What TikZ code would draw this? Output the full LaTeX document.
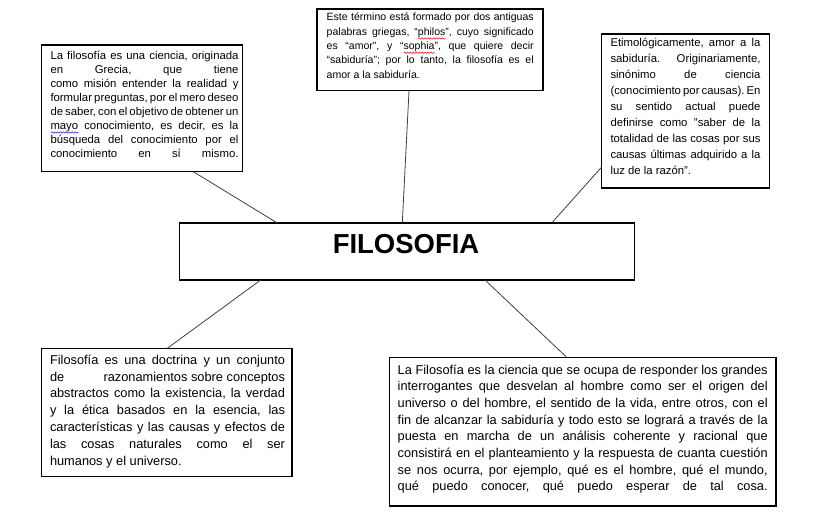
\documentclass[tikz,border=0pt]{standalone}
\usepackage{fontspec}
\setmainfont{Liberation Sans}
\usetikzlibrary{calc,decorations.pathmorphing}
\definecolor{spellred}{RGB}{225,20,20}
\definecolor{spellblue}{RGB}{40,40,210}
\newlength\swlen
% justified line
\newcommand\jl[2]{{\spaceskip=0.278em plus 3em minus 0.15em\relax\makebox[#1][s]{#2}}}
% natural (last) line
\newcommand\jn[1]{{\spaceskip=0.278em\relax #1}}
\newcommand\spellwave[2]{\settowidth\swlen{#2}\rlap{\smash{\tikz[baseline=0pt,x=1pt,y=1pt]\draw[#1,line width=0.4pt,decorate,decoration={snake,amplitude=0.55pt,segment length=2.2pt}] (0pt,-2.4pt) -- (\swlen,-2.4pt);}}#2}
\newcommand\setfs[2]{\fontsize{#1}{#2}\selectfont\frenchspacing}
\tikzset{
  box/.style={draw=black, line width=0.8pt, inner sep=0pt, outer sep=0pt, anchor=north west, fill=white},
  link/.style={draw=black!75, line width=0.6pt},
  txt/.style={inner sep=0pt, outer sep=0pt, anchor=base west, align=left},
  title/.style={inner sep=0pt, outer sep=0pt, anchor=base, font=\fontsize{20.6pt}{24pt}\selectfont\bfseries},
}
\begin{document}
\begin{tikzpicture}[x=0.75pt,y=-0.75pt]
\fill[white] (0,0) rectangle (839,513);
\useasboundingbox (0,0) rectangle (839,513);

% boxes
\node[box, minimum width=150.45pt, minimum height=95pt] (tl) at (41.7,45) {};
\node[box, minimum width=169.5pt, minimum height=61.3pt] (tm) at (317,9) {};
\node[box, minimum width=125.5pt, minimum height=115.5pt] (tr) at (601.7,34) {};
\node[box, minimum width=341.25pt, minimum height=42.75pt] (c) at (179.3,223) {};
\node[box, minimum width=188pt, minimum height=96.3pt] (bl) at (41.3,348.3) {};
\node[box, minimum width=289.7pt, minimum height=111.5pt] (br) at (389.7,357.3) {};

% connectors
\draw[link] ($(tl.south west)+(151.6,0)$) -- ($(c.north west)+(98,0)$);
\draw[link] ($(tm.south west)+(92,0)$) -- ($(c.north west)+(223,0)$);
\draw[link] ($(tr.south west)+(0,-21)$) -- ($(c.north west)+(372.4,0)$);
\draw[link] ($(c.south west)+(81.4,0)$) -- ($(bl.north west)+(126,0)$);
\draw[link] ($(c.south west)+(305.7,0)$) -- ($(br.north west)+(177,0)$);

% title
\node[title] (ctext) at (406,254) {FILOSOFIA};

% top-left text
\node[txt, text width=141pt, font=\setfs{8.5pt}{10.5pt}] (tltext) at (50.5,59.3) {%
\jl{141pt}{La filosofía es una ciencia, originada}\\
\jl{141pt}{en Grecia, que tiene}\\
\jl{141pt}{como misión entender la realidad y}\\
\jl{141pt}{formular preguntas, por el mero deseo}\\
\jl{141pt}{de saber, con el objetivo de obtener un}\\
\jl{141pt}{\spellwave{spellblue}{mayo} conocimiento, es decir, es la}\\
\jl{141pt}{búsqueda del conocimiento por el}\\
\jl{141pt}{conocimiento en sí mismo.}};

% top-middle text
\node[txt, text width=155.25pt, font=\setfs{7.9pt}{10.7pt}] (tmtext) at (326.7,21) {%
\jl{155.25pt}{Este término está formado por dos antiguas}\\
\jl{155.25pt}{palabras griegas, “\spellwave{spellred}{philos}”, cuyo significado}\\
\jl{155.25pt}{es “amor”, y “\spellwave{spellred}{sophia}”, que quiere decir}\\
\jl{155.25pt}{“sabiduría”; por lo tanto, la filosofía es el}\\
\jn{amor a la sabiduría.}};

% top-right text
\node[txt, text width=112.5pt, font=\setfs{8.5pt}{12pt}] (trtext) at (610.5,47) {%
\jl{112.5pt}{Etimológicamente, amor a la}\\
\jl{112.5pt}{sabiduría. Originariamente,}\\
\jl{112.5pt}{sinónimo de ciencia}\\
\jl{112.5pt}{(conocimiento por causas). En}\\
\jl{112.5pt}{su sentido actual puede}\\
\jl{112.5pt}{definirse como "saber de la}\\
\jl{112.5pt}{totalidad de las cosas por sus}\\
\jl{112.5pt}{causas últimas adquirido a la}\\
\jn{luz de la razón".}};

% bottom-left text
\node[txt, text width=176.25pt, font=\setfs{9.6pt}{12.6pt}] (bltext) at (50,364.3) {%
\jl{176.25pt}{Filosofía es una doctrina y un conjunto}\\
\jl{176.25pt}{de\hfill razonamientos sobre conceptos}\\
\jl{176.25pt}{abstractos como la existencia, la verdad}\\
\jl{176.25pt}{y la ética basados en la esencia, las}\\
\jl{176.25pt}{características y las causas y efectos de}\\
\jl{176.25pt}{las cosas naturales como el ser}\\
\jn{humanos y el universo.}};

% bottom-right text
\node[txt, text width=277.5pt, font=\setfs{9.6pt}{12.5pt}] (brtext) at (397.7,374) {%
\jl{277.5pt}{La Filosofía es la ciencia que se ocupa de responder los grandes}\\
\jl{277.5pt}{interrogantes que desvelan al hombre como ser el origen del}\\
\jl{277.5pt}{universo o del hombre, el sentido de la vida, entre otros, con el}\\
\jl{277.5pt}{fin de alcanzar la sabiduría y todo esto se logrará a través de la}\\
\jl{277.5pt}{puesta en marcha de un análisis coherente y racional que}\\
\jl{277.5pt}{consistirá en el planteamiento y la respuesta de cuanta cuestión}\\
\jl{277.5pt}{se nos ocurra, por ejemplo, qué es el hombre, qué el mundo,}\\
\jl{277.5pt}{qué puedo conocer, qué puedo esperar de tal cosa.}};
\end{tikzpicture}
\end{document}
